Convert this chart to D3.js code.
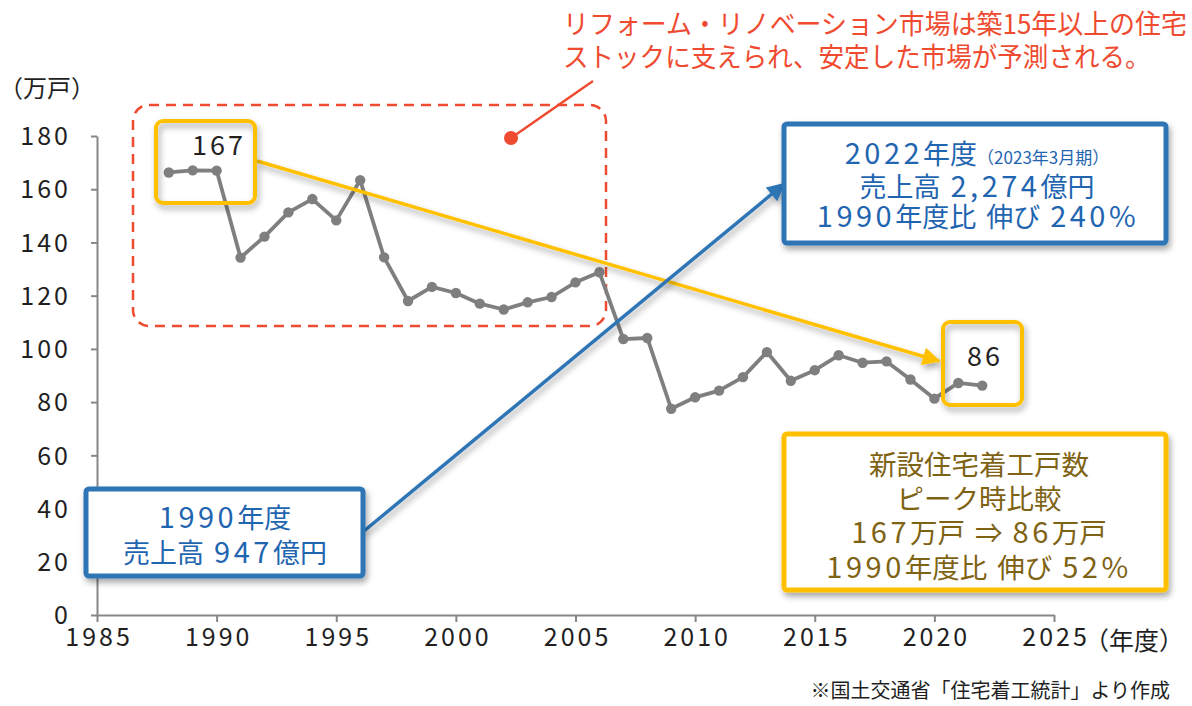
<!DOCTYPE html>
<meta charset="utf-8">
<script src="https://d3js.org/d3.v7.min.js"></script>
<style>
body { margin: 0; background: #fff; }
text { font-family: "Noto Sans CJK JP", "Noto Sans", sans-serif; }
.axis path, .axis line { stroke: #878787; stroke-width: 2; fill: none; }
.axis text { font-size: 25px; fill: #231f1f; letter-spacing: 3px; }
</style>
<body>
<script>
// housing starts per fiscal year (10k units)
var years = d3.range(1988, 2023);
var starts = [166.3, 167.1, 167.0, 134.3, 142.2, 151.3, 156.3, 148.3, 163.4, 134.4,
              118.0, 123.3, 121.0, 117.0, 114.8, 117.5, 119.5, 125.0, 128.8, 103.7,
              104.1, 77.5, 81.8, 84.3, 89.4, 98.8, 88.0, 92.0, 97.6, 94.8,
              95.3, 88.5, 81.3, 87.2, 86.2];
var xTicks = [1985, 1990, 1995, 2000, 2005, 2010, 2015, 2020, 2025];
var yTicks = [0, 20, 40, 60, 80, 100, 120, 140, 160, 180];

var W = 1192, H = 706;
var svg = d3.select("body").append("svg")
    .attr("width", W)
    .attr("height", H);

var defs = svg.append("defs");
defs.append("filter").attr("id", "shadow")
    .attr("x", "-20%").attr("y", "-20%").attr("width", "140%").attr("height", "150%")
  .append("feDropShadow")
    .attr("dx", 2).attr("dy", 4).attr("stdDeviation", 3)
    .attr("flood-color", "#000").attr("flood-opacity", 0.35);

function arrowHead(id, color) {
  defs.append("marker").attr("id", id)
      .attr("viewBox", "0 0 10 10")
      .attr("refX", 9).attr("refY", 5)
      .attr("markerWidth", 20).attr("markerHeight", 18)
      .attr("markerUnits", "userSpaceOnUse")
      .attr("orient", "auto")
    .append("path")
      .attr("d", "M0,0 L10,5 L0,10 z")
      .attr("fill", color);
}
arrowHead("goldArrow", "#FFC000");
arrowHead("blueArrow", "#2E75B6");

var x = d3.scaleLinear().domain([1985, 2025]).range([97, 1054]);
var y = d3.scaleLinear().domain([0, 180]).range([615, 136]);

// text with wider latin digits (the original font has big numerals)
function rich(x0, y0, str, size, color, numSize, spacing) {
  var t = svg.append("text").attr("x", x0).attr("y", y0)
      .attr("text-anchor", "middle")
      .style("font-size", size + "px").style("fill", color);
  str.match(/[0-9,%. ]+|[^0-9,%. ]+/g).forEach(function(run) {
    var ts = t.append("tspan").text(run);
    if (/^[0-9,%. ]+$/.test(run)) {
      ts.style("font-size", numSize + "px").style("letter-spacing", spacing + "px");
    }
  });
  return t;
}

// axes
svg.append("g").attr("class", "axis")
    .attr("transform", "translate(97,0)")
    .call(d3.axisLeft(y).tickValues(yTicks).tickSize(6).tickPadding(20).tickSizeOuter(0))
    .selectAll("text").attr("dy", "0.35em");
svg.append("g").attr("class", "axis")
    .attr("transform", "translate(0,615)")
    .call(d3.axisBottom(x).tickValues(xTicks).tickFormat(d3.format("d")).tickSize(7).tickPadding(6).tickSizeOuter(0))
    .selectAll("text").attr("dx", "1.5px");

svg.append("text").attr("x", 47).attr("y", 97)
    .attr("text-anchor", "middle")
    .style("font-size", "24px").style("fill", "#231f1f")
    .text("（万戸）");
svg.append("text").attr("x", 1134).attr("y", 650)
    .attr("text-anchor", "middle")
    .style("font-size", "25px").style("fill", "#231f1f")
    .text("（年度）");
svg.append("text").attr("x", 1170).attr("y", 698)
    .attr("text-anchor", "end")
    .style("font-size", "20px").style("fill", "#231f1f")
    .text("※国土交通省「住宅着工統計」より作成");

// red dashed region + callout
svg.append("rect")
    .attr("x", 133).attr("y", 105).attr("width", 473).attr("height", 221)
    .attr("rx", 16)
    .attr("fill", "none").attr("stroke", "#EE4B30")
    .attr("stroke-width", 2.5).attr("stroke-dasharray", "10,7");
svg.append("line")
    .attr("x1", 511).attr("y1", 138).attr("x2", 593).attr("y2", 81)
    .attr("stroke", "#EE4B30").attr("stroke-width", 2.5);
svg.append("circle").attr("cx", 511).attr("cy", 138).attr("r", 7).attr("fill", "#EE4B30");

// condensed red headline: squeeze each line to the width it has in the original
function squeezed(x0, y0, str, width) {
  var t = svg.append("text")
      .style("font-size", "27px").style("fill", "#EE4B30")
      .text(str);
  var k = width / t.node().getComputedTextLength();
  t.attr("transform", "translate(" + x0 + "," + y0 + ") scale(" + k + ",1)");
}
squeezed(563, 34, "リフォーム・リノベーション市場は築15年以上の住宅", 624);
squeezed(563, 67, "ストックに支えられ、安定した市場が予測される。", 588);

// data line
var line = d3.line()
    .x(function(d, i) { return x(years[i]); })
    .y(function(d) { return y(d); });
svg.append("path").datum(starts)
    .attr("d", line)
    .attr("fill", "none").attr("stroke", "#7F7F7F").attr("stroke-width", 3.8)
    .attr("stroke-linejoin", "round");
svg.selectAll(".pt").data(starts).enter().append("circle")
    .attr("class", "pt")
    .attr("cx", function(d, i) { return x(years[i]); })
    .attr("cy", function(d) { return y(d); })
    .attr("r", 5.2)
    .attr("fill", "#7F7F7F");

// arrows
svg.append("line")
    .attr("x1", 257).attr("y1", 161).attr("x2", 939).attr("y2", 361)
    .attr("stroke", "#FFC000").attr("stroke-width", 3.5)
    .attr("marker-end", "url(#goldArrow)")
    .attr("filter", "url(#shadow)");
svg.append("line")
    .attr("x1", 364).attr("y1", 531).attr("x2", 784).attr("y2", 184)
    .attr("stroke", "#2E75B6").attr("stroke-width", 3.5)
    .attr("marker-end", "url(#blueArrow)")
    .attr("filter", "url(#shadow)");

// small gold boxes (peak / latest)
svg.append("rect")
    .attr("x", 156).attr("y", 121).attr("width", 99).attr("height", 82).attr("rx", 7)
    .attr("fill", "none").attr("stroke", "#FFC000").attr("stroke-width", 4)
    .attr("filter", "url(#shadow)");
rich(219, 155, "167", 27, "#231f1f", 27, 3);
svg.append("rect")
    .attr("x", 943).attr("y", 322).attr("width", 79).attr("height", 83).attr("rx", 7)
    .attr("fill", "none").attr("stroke", "#FFC000").attr("stroke-width", 4)
    .attr("filter", "url(#shadow)");
rich(985, 366, "86", 27, "#231f1f", 27, 3);

// text boxes
function box(x0, y0, w, h, stroke, sw) {
  svg.append("rect")
      .attr("x", x0).attr("y", y0).attr("width", w).attr("height", h).attr("rx", 3)
      .attr("fill", "#fff").attr("stroke", stroke).attr("stroke-width", sw)
      .attr("filter", "url(#shadow)");
}

var blue = "#1F65B0";
box(86, 489, 277, 87, "#2E75B6", 5);
rich(225, 528, "1990年度", 27, blue, 29, 3.5);
rich(225, 563, "売上高 947億円", 27, blue, 29, 3.5);

box(784, 124, 382, 119, "#2E75B6", 5);
var t1 = rich(977, 164, "2022年度", 27, blue, 29, 3.5);
t1.append("tspan").style("font-size", "17px").text("（2023年3月期）");
rich(977, 197, "売上高 2,274億円", 27, blue, 29, 3.5);
rich(978, 227, "1990年度比 伸び 240%", 27, blue, 29, 3.5);

box(784, 434, 382, 156, "#FFC000", 5);
var goldLines = ["新設住宅着工戸数", "ピーク時比較", "167万戸 ⇒ 86万戸", "1990年度比 伸び 52%"];
goldLines.forEach(function(s, i) {
  rich(979, 475 + i * 34.2, s, 27.5, "#7F6314", 29, 3.5);
});
</script>
</body>
